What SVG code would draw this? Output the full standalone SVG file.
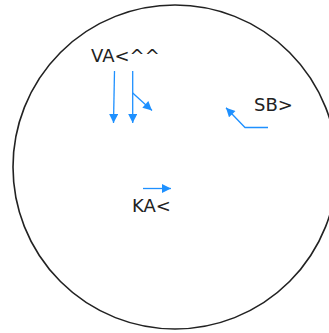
<svg xmlns="http://www.w3.org/2000/svg" width="329" height="333" viewBox="0 0 329 333">
<style>
.lbl{font-family:"DejaVu Sans",sans-serif;font-size:18px;fill:#222}
.c{fill:none;stroke:#1e90ff;stroke-width:1.3}
</style>
<defs>
<marker id="ah" viewBox="0 0 10 10" refX="10" refY="5" markerWidth="10" markerHeight="9" markerUnits="userSpaceOnUse" orient="auto">
<path d="M0,0 L10,5 L0,10 Z" fill="#1e90ff"/>
</marker>
</defs>
<rect width="329" height="333" fill="#fff"/>
<g id="boundary"><circle cx="175" cy="167" r="162" fill="none" stroke="#222" stroke-width="1.6"/></g>
<g id="VA"><text class="lbl" x="91" y="62">VA&lt;^^</text></g>
<g id="SB"><text class="lbl" x="254" y="111">SB&gt;</text></g>
<g id="KA"><text class="lbl" x="132" y="212">KA&lt;</text></g>
<g id="connectors">
<path class="c" d="M114.5,71 L113.5,123" marker-end="url(#ah)"/>
<path class="c" d="M132.7,71 L132.7,123" marker-end="url(#ah)"/>
<path class="c" d="M132.7,93 L152,110.5" marker-end="url(#ah)"/>
<path class="c" d="M268,127.5 L245,127.5 L226,107.7" marker-end="url(#ah)"/>
<path class="c" d="M143,188.5 L171,188.5" marker-end="url(#ah)"/>
</g>
</svg>
